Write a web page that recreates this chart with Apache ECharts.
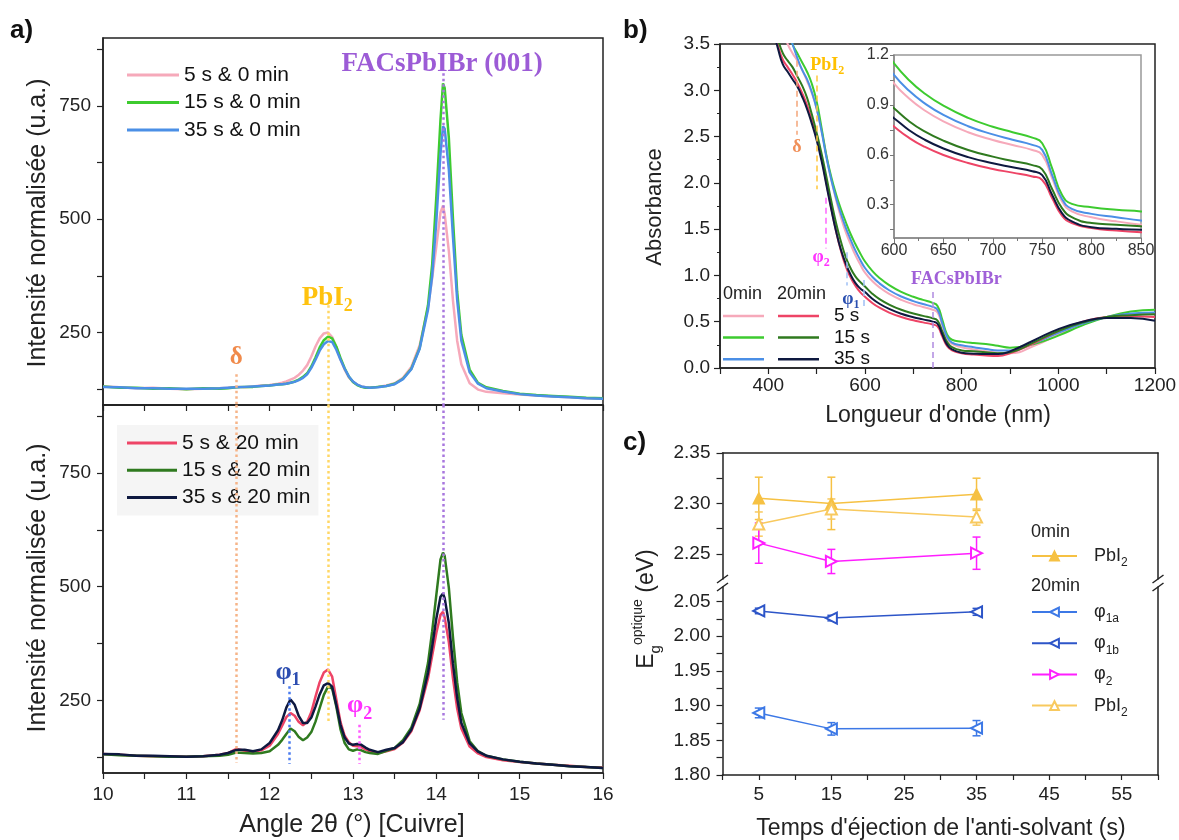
<!DOCTYPE html>
<html><head><meta charset="utf-8">
<script src="https://cdn.jsdelivr.net/npm/echarts@6/dist/echarts.min.js"></script>
<style>html,body{margin:0;padding:0;background:#fff}#c{width:1179px;height:840px}</style>
</head><body><div id="c"></div>
<script>
// ---------------- DATA ----------------
// Panel a : XRD, angle 2theta
const thetaA = [10.0,10.2,10.4,10.6,10.8,11.0,11.2,11.4,11.5,11.6,11.7,11.8,11.9,12.0,12.1,12.15,12.2,12.25,12.3,12.35,12.4,12.45,12.5,12.55,12.6,12.65,12.7,12.75,12.8,12.85,12.9,12.95,13.0,13.05,13.1,13.15,13.2,13.3,13.4,13.5,13.6,13.7,13.8,13.9,13.95,14.0,14.05,14.08,14.1,14.15,14.2,14.25,14.3,14.4,14.5,14.6,14.8,15.0,15.2,15.4,15.6,15.8,16.0];
const xrd_5s_0 = [131,129,127,128,126,125,126,127,128,130,129,131,133,134,137,139,142,146,150,157,166,178,197,219,237,248,250,240,218,191,168,151,141,135,131,129,128,130,133,138,150,174,222,305,370,440,515,530,512,430,320,232,180,138,124,119,116,113,111,109,107,105,104];
const xrd_15s_0 = [131,128,128,126,127,125,127,126,127,129,130,130,132,133,135,136,137,139,142,146,152,160,175,195,217,233,241,237,219,194,171,153,141,134,130,128,128,130,132,137,148,170,216,310,400,550,720,800,790,680,500,340,245,168,139,129,121,115,112,110,108,106,105];
const xrd_35s_0 = [130,129,127,127,126,126,126,127,128,129,130,131,132,133,135,136,137,139,141,145,150,158,172,190,210,224,231,229,212,190,170,153,142,135,131,129,128,129,132,136,147,169,214,300,375,495,645,705,700,610,460,322,232,162,137,127,120,114,111,109,107,105,104];
const xrd_5s_20 = [132,130,128,127,127,126,127,130,134,143,139,137,140,150,176,194,213,222,216,202,195,203,224,258,290,311,318,302,252,202,172,158,150,149,147,142,138,134,138,143,157,182,228,298,348,398,438,445,432,378,298,232,188,148,133,125,118,114,111,108,106,103,102];
const xrd_15s_20 = [131,129,128,127,126,126,127,128,130,135,134,133,134,138,152,163,176,188,182,169,162,168,180,203,233,262,280,276,236,186,156,142,139,142,140,136,134,132,139,145,162,190,242,332,402,482,560,575,568,498,388,290,222,160,138,128,120,115,111,108,105,103,101];
const xrd_35s_20 = [132,131,128,128,127,126,127,130,134,141,141,138,142,156,184,206,234,252,240,215,200,200,212,236,263,283,288,280,240,196,168,155,152,154,152,146,141,136,141,145,158,185,232,310,368,430,478,485,475,420,330,255,200,155,137,128,120,115,111,108,105,103,101];
const peakA = {delta:11.6, pbi2:12.7, fac:14.08, phi1:12.23, phi2:13.07};

// Panel b : absorbance vs wavelength (nm)
const lamB = [410,420,430,440,450,460,470,480,490,500,510,520,530,540,550,560,570,580,590,600,615,630,650,675,700,720,740,750,760,770,780,800,825,850,875,900,950,1000,1050,1100,1150,1200];
const abs_5s_0  = [4.2,3.9,3.65,3.5,3.4,3.32,3.22,3.1,2.97,2.8,2.57,2.3,2.04,1.82,1.63,1.47,1.34,1.22,1.12,1.03,0.94,0.871,0.801,0.736,0.689,0.659,0.629,0.60,0.46,0.32,0.26,0.225,0.20,0.18,0.165,0.16,0.24,0.36,0.47,0.55,0.58,0.58];
const abs_15s_0 = [4.5,4.2,3.9,3.68,3.5,3.4,3.3,3.2,3.07,2.88,2.6,2.3,2.07,1.88,1.72,1.58,1.45,1.34,1.24,1.15,1.05,0.973,0.895,0.822,0.769,0.736,0.703,0.67,0.52,0.36,0.305,0.285,0.27,0.26,0.24,0.22,0.26,0.35,0.46,0.55,0.61,0.63];
const abs_35s_0 = [4.4,4.1,3.85,3.65,3.5,3.35,3.22,3.12,2.98,2.8,2.56,2.28,2.04,1.84,1.67,1.52,1.39,1.27,1.17,1.08,0.986,0.914,0.840,0.772,0.723,0.691,0.660,0.63,0.48,0.335,0.275,0.245,0.225,0.205,0.19,0.19,0.27,0.38,0.48,0.55,0.59,0.60];
const abs_5s_20  = [3.7,3.48,3.33,3.25,3.17,3.08,2.97,2.84,2.68,2.5,2.27,2.0,1.73,1.48,1.27,1.1,0.98,0.89,0.82,0.77,0.703,0.651,0.599,0.551,0.515,0.493,0.470,0.449,0.34,0.235,0.19,0.16,0.145,0.135,0.13,0.16,0.27,0.40,0.50,0.55,0.56,0.55];
const abs_15s_20 = [3.8,3.55,3.4,3.32,3.25,3.15,3.05,2.92,2.74,2.54,2.32,2.07,1.81,1.57,1.37,1.2,1.08,0.99,0.93,0.88,0.803,0.744,0.685,0.629,0.589,0.563,0.538,0.513,0.395,0.28,0.225,0.19,0.18,0.17,0.16,0.17,0.28,0.40,0.49,0.55,0.57,0.58];
const abs_35s_20 = [3.65,3.45,3.28,3.2,3.12,3.04,2.93,2.8,2.64,2.46,2.24,1.98,1.72,1.48,1.28,1.13,1.01,0.92,0.86,0.82,0.749,0.694,0.638,0.586,0.549,0.525,0.501,0.478,0.36,0.25,0.20,0.165,0.155,0.15,0.15,0.18,0.30,0.42,0.50,0.54,0.54,0.51];
const peakB = {delta:458, pbi2:500, phi2:519, phi1a:562, phi1b:598, fac:740};

// Panel c : optical gap vs anti-solvent time
const timeC = [5, 15, 35];
const eg_PbI2_0 = [2.305, 2.300, 2.309];   const eg_PbI2_0_err = [0.021, 0.026, 0.016];
const eg_PbI2_20 = [2.2795, 2.2944, 2.2864]; const eg_PbI2_20_err = [0.012, 0.010, 0.008];
const eg_phi2 = [2.2606, 2.2424, 2.2506];  const eg_phi2_err = [0.020, 0.012, 0.016];
const eg_phi1b = [2.0365, 2.0262, 2.0352]; const eg_phi1b_err = [0.004, 0.004, 0.005];
const eg_phi1a = [1.8895, 1.8665, 1.8675]; const eg_phi1a_err = [0.007, 0.009, 0.011];

// tick labels
const ticksA_x = [10,11,12,13,14,15,16];
const ticksA_y = [250,500,750];
const ticksA_yAll = [125,250,375,500,625,750,875];
const ticksB_x = [400,600,800,1000,1200];
const ticksIn_y = [0.3,0.6,0.9,1.2];
const ticksIn_yAll = [0.15,0.3,0.45,0.6,0.75,0.9,1.05,1.2];
const ticksC_x = [5,15,25,35,45,55];
const ticksC_up = [2.25,2.30,2.35];
const ticksC_upAll = [2.25,2.275,2.30,2.325,2.35];
const ticksC_lo = [1.80,1.85,1.90,1.95,2.00,2.05];
const ticksC_loAll = [1.80,1.825,1.85,1.875,1.90,1.925,1.95,1.975,2.00,2.025,2.05];

// ---------------- STYLE ----------------
const FONT = "'Liberation Sans', Arial, sans-serif";
const SERIF = "'Liberation Serif', 'Times New Roman', serif";
const AX = '#222';
const COL = {pink:'#F6A9BA', green:'#3DCB2F', blue:'#4B8FE6', red:'#EE4466', dkgreen:'#2F7A1F', navy:'#0E1940'};
const zip = (xs, ys) => xs.map((x, i) => [x, ys[i]]);

function axisBase(extra) {
  const a = {
    type: 'value',
    axisLine: {show: true, onZero: false, lineStyle: {color: AX, width: 1.5}},
    axisTick: {show: true, inside: false, length: 6, lineStyle: {color: AX, width: 1.2}},
    splitLine: {show: false},
    axisLabel: {color: '#222', fontFamily: FONT, fontSize: 19, margin: 12}
  };
  for (const k in extra) {
    if (a[k] && typeof a[k] === 'object' && typeof extra[k] === 'object' && !Array.isArray(extra[k])) a[k] = Object.assign({}, a[k], extra[k]);
    else a[k] = extra[k];
  }
  return a;
}

function serifLabel(main, sub, color, size, subSize) {
  return {
    show: true, position: 'inside',
    formatter: sub ? '{m|' + main + '}{s|' + sub + '}' : '{m|' + main + '}',
    rich: {
      m: {fontFamily: SERIF, fontWeight: 'bold', fontSize: size, color: color, lineHeight: Math.round(size * 1.33)},
      s: {fontFamily: SERIF, fontWeight: 'bold', fontSize: subSize, color: color, lineHeight: Math.round(subSize * 0.9), verticalAlign: 'bottom'}
    }
  };
}

function lineA(name, ys, color, xi, extra) {
  return Object.assign({type: 'line', name, xAxisIndex: xi, yAxisIndex: xi, data: zip(thetaA, ys),
    showSymbol: false, symbol: 'none', smooth: false, lineStyle: {color, width: 2.5}, itemStyle: {color}, z: 3}, extra || {});
}
function lineB(name, ys, color, idx, extra) {
  return Object.assign({type: 'line', name, xAxisIndex: idx, yAxisIndex: idx, data: zip(lamB, ys),
    showSymbol: false, symbol: 'none', smooth: 0.5, clip: true,
    lineStyle: {color, width: 2}, itemStyle: {color}, z: 3}, extra || {});
}
function errSeries(ys, es, color, idx) {
  return {type: 'custom', xAxisIndex: idx, yAxisIndex: idx, z: 2, silent: true, itemStyle: {color},
    data: timeC.map((t, i) => [t, ys[i], es[i]]), encode: {x: 0, y: 1},
    renderItem: function (params, api) {
      const x = api.value(0), y = api.value(1), e = api.value(2);
      const p1 = api.coord([x, y + e]), p2 = api.coord([x, y - e]);
      const w = 4, st = {stroke: color, lineWidth: 1.5};
      return {type: 'group', children: [
        {type: 'line', shape: {x1: p1[0], y1: p1[1], x2: p2[0], y2: p2[1]}, style: st},
        {type: 'line', shape: {x1: p1[0] - w, y1: p1[1], x2: p1[0] + w, y2: p1[1]}, style: st},
        {type: 'line', shape: {x1: p2[0] - w, y1: p2[1], x2: p2[0] + w, y2: p2[1]}, style: st}
      ]};
    }};
}
function egLine(name, ys, color, idx, symbol, rot) {
  return {type: 'line', name, xAxisIndex: idx, yAxisIndex: idx, data: zip(timeC, ys), z: 5,
    symbol, symbolRotate: rot, symbolSize: 11, showSymbol: true,
    lineStyle: {color, width: 1.5}, itemStyle: {color, borderColor: color, borderWidth: 1.5}};
}

const dotA = {type: [2.5, 3], width: 2.5};
const series = [
  // panel a top
  lineA('5 s & 0 min', xrd_5s_0, COL.pink, 0, {
    markLine: {silent: true, symbol: ['none', 'none'], label: {show: false}, lineStyle: dotA, animation: false,
      data: [
        [{coord: [peakA.delta, 158], lineStyle: {color: '#F6B488'}}, {coord: [peakA.delta, 90]}],
        [{coord: [peakA.pbi2, 310], lineStyle: {color: '#FFD766'}}, {coord: [peakA.pbi2, 90]}],
        [{coord: [peakA.fac, 822], lineStyle: {color: '#A877DE'}}, {coord: [peakA.fac, 90]}]
      ]},
    markPoint: {silent: true, symbol: 'circle', symbolSize: 0, animation: false,
      data: [
        {coord: [peakA.delta, 195], label: serifLabel('δ', '', '#F08A4B', 25, 16)},
        {coord: [12.69, 327], label: serifLabel('PbI', '2', '#FFC20E', 27, 18)},
        {coord: [14.07, 843], label: serifLabel('FACsPbIBr (001)', '', '#9C5BD6', 27, 18)}
      ]}
  }),
  lineA('15 s & 0 min', xrd_15s_0, COL.green, 0),
  lineA('35 s & 0 min', xrd_35s_0, COL.blue, 0),
  // panel a bottom
  lineA('5 s & 20 min', xrd_5s_20, COL.red, 1, {
    markLine: {silent: true, symbol: ['none', 'none'], label: {show: false}, lineStyle: dotA, animation: false,
      data: [
        [{coord: [peakA.delta, 900], lineStyle: {color: '#F6B488'}}, {coord: [peakA.delta, 112]}],
        [{coord: [peakA.pbi2, 900], lineStyle: {color: '#FFD766'}}, {coord: [peakA.pbi2, 200]}],
        [{coord: [peakA.fac, 900], lineStyle: {color: '#A877DE'}}, {coord: [peakA.fac, 207]}],
        [{coord: [peakA.phi1, 281], lineStyle: {color: '#4A7BF0'}}, {coord: [peakA.phi1, 110]}],
        [{coord: [peakA.phi2, 196], lineStyle: {color: '#FF5CFF'}}, {coord: [peakA.phi2, 110]}]
      ]},
    markPoint: {silent: true, symbol: 'circle', symbolSize: 0, animation: false,
      data: [
        {coord: [12.22, 312], label: serifLabel('φ', '1', '#2C4DB0', 26, 18)},
        {coord: [13.08, 238], label: serifLabel('φ', '2', '#FF30FF', 26, 18)}
      ]}
  }),
  lineA('15 s & 20 min', xrd_15s_20, COL.dkgreen, 1),
  lineA('35 s & 20 min', xrd_35s_20, COL.navy, 1),
  // panel b
  lineB('b5_0', abs_5s_0, COL.pink, 2, {
    markLine: {silent: true, symbol: ['none', 'none'], label: {show: false}, lineStyle: {type: [6, 4], width: 1.5}, animation: false,
      data: [
        [{coord: [peakB.delta, 3.32], lineStyle: {color: '#F4A57A'}}, {coord: [peakB.delta, 2.52]}],
        [{coord: [peakB.pbi2, 3.16], lineStyle: {color: '#FFC83D'}}, {coord: [peakB.pbi2, 1.93]}],
        [{coord: [peakB.phi2, 1.84], lineStyle: {color: '#FF66FF'}}, {coord: [peakB.phi2, 1.29]}],
        [{coord: [peakB.phi1a, 1.25], lineStyle: {color: '#9EC0F5'}}, {coord: [peakB.phi1a, 0.89]}],
        [{coord: [peakB.phi1b, 0.95], lineStyle: {color: '#9EC0F5'}}, {coord: [peakB.phi1b, 0.67]}],
        [{coord: [peakB.fac, 0.82], lineStyle: {color: '#B08AE0'}}, {coord: [peakB.fac, 0.0]}]
      ]},
    markPoint: {silent: true, symbol: 'circle', symbolSize: 0, animation: false,
      data: [
        {coord: [459, 2.38], label: serifLabel('δ', '', '#F0905A', 18, 12)},
        {coord: [522, 3.27], label: serifLabel('PbI', '2', '#FFC000', 18, 12)},
        {coord: [509, 1.2], label: serifLabel('φ', '2', '#FF33FF', 18, 12)},
        {coord: [571, 0.745], label: serifLabel('φ', '1', '#2A4FB0', 18, 12)},
        {coord: [789, 0.956], label: serifLabel('FACsPbIBr', '', '#A060D8', 18, 12)}
      ]}
  }),
  lineB('b15_0', abs_15s_0, COL.green, 2),
  lineB('b35_0', abs_35s_0, COL.blue, 2),
  lineB('b5_20', abs_5s_20, COL.red, 2),
  lineB('b15_20', abs_15s_20, COL.dkgreen, 2),
  lineB('b35_20', abs_35s_20, COL.navy, 2),
  // inset
  lineB('b5_0', abs_5s_0, COL.pink, 3),
  lineB('b15_0', abs_15s_0, COL.green, 3),
  lineB('b35_0', abs_35s_0, COL.blue, 3),
  lineB('b5_20', abs_5s_20, COL.red, 3),
  lineB('b15_20', abs_15s_20, COL.dkgreen, 3),
  lineB('b35_20', abs_35s_20, COL.navy, 3),
  // panel c
  errSeries(eg_PbI2_0, eg_PbI2_0_err, '#F6C143', 4),
  errSeries(eg_PbI2_20, eg_PbI2_20_err, '#F8C95E', 4),
  errSeries(eg_phi2, eg_phi2_err, '#FF1EFF', 4),
  errSeries(eg_phi1b, eg_phi1b_err, '#2D55C8', 5),
  errSeries(eg_phi1a, eg_phi1a_err, '#3C78E6', 5),
  egLine('PbI2_0', eg_PbI2_0, '#F6C143', 4, 'triangle', 0),
  egLine('PbI2_20', eg_PbI2_20, '#F8C95E', 4, 'emptyTriangle', 0),
  egLine('phi2', eg_phi2, '#FF1EFF', 4, 'emptyTriangle', -90),
  egLine('phi1b', eg_phi1b, '#2D55C8', 5, 'emptyTriangle', 90),
  egLine('phi1a', eg_phi1a, '#3C78E6', 5, 'emptyTriangle', 90)
];

const legTxt = {color: '#111', fontFamily: FONT};
const richC = {
  m: {fontFamily: FONT, fontSize: 18, color: '#222', lineHeight: 26},
  s: {fontFamily: FONT, fontSize: 12, color: '#222', lineHeight: 12, verticalAlign: 'bottom'}
};
const legNamesC = {PbI2_0: '{m|PbI}{s|2}', PbI2_20: '{m|PbI}{s|2}', phi2: '{m|φ}{s|2}', phi1a: '{m|φ}{s|1a}', phi1b: '{m|φ}{s|1b}'};
const legNamesB = {b5_20: '5 s', b15_20: '15 s', b35_20: '35 s'};

const option = {
  animation: false,
  backgroundColor: '#fff',
  textStyle: {fontFamily: FONT},
  grid: [
    {left: 103, top: 38, width: 500, height: 367, show: true, borderColor: '#222', borderWidth: 1.5, containLabel: false, outerBoundsMode: 'none'},
    {left: 103, top: 405, width: 500, height: 368, show: true, borderColor: '#222', borderWidth: 1.5, containLabel: false, outerBoundsMode: 'none'},
    {left: 720, top: 44, width: 435, height: 324, show: true, borderColor: '#222', borderWidth: 1.5, containLabel: false, outerBoundsMode: 'none'},
    {left: 894, top: 55, width: 247, height: 183, show: true, borderColor: '#999', borderWidth: 1.5, backgroundColor: '#fff', containLabel: false, outerBoundsMode: 'none'},
    {left: 722.5, top: 453, width: 435.5, height: 126, containLabel: false, outerBoundsMode: 'none'},
    {left: 722.5, top: 587, width: 435.5, height: 188, containLabel: false, outerBoundsMode: 'none'}
  ],
  xAxis: [
    axisBase({gridIndex: 0, min: 10, max: 16, interval: 0.5, axisLabel: {show: false}}),
    axisBase({gridIndex: 1, min: 10, max: 16, interval: 0.5, axisLabel: {customValues: ticksA_x, margin: 12}}),
    axisBase({gridIndex: 2, min: 300, max: 1200, interval: 100, axisLabel: {customValues: ticksB_x, margin: 8, formatter: v => String(v)}}),
    axisBase({gridIndex: 3, min: 600, max: 850, interval: 50,
      axisLine: {lineStyle: {color: '#888', width: 1.5}}, axisTick: {length: 5, lineStyle: {color: '#777', width: 1}},
      minorTick: {show: true, splitNumber: 2, length: 3, lineStyle: {color: '#777', width: 1}},
      axisLabel: {fontSize: 16, margin: 5, color: '#333', formatter: v => String(v)}}),
    axisBase({gridIndex: 4, position: 'top', min: 0, max: 60, axisTick: {show: false}, axisLabel: {show: false}}),
    axisBase({gridIndex: 5, min: 0, max: 60, interval: 5, axisTick: {length: 5}, axisLabel: {customValues: ticksC_x, margin: 10}})
  ],
  yAxis: [
    axisBase({gridIndex: 0, min: 90, max: 900, axisTick: {customValues: ticksA_yAll}, axisLabel: {customValues: ticksA_y, margin: 12}}),
    axisBase({gridIndex: 1, min: 90, max: 900, axisTick: {customValues: ticksA_yAll}, axisLabel: {customValues: ticksA_y, margin: 12}}),
    axisBase({gridIndex: 2, min: 0, max: 3.5, interval: 0.5, minorTick: {show: true, splitNumber: 2, length: 3, lineStyle: {color: AX}},
      axisLabel: {margin: 10, formatter: v => v.toFixed(1)}}),
    axisBase({gridIndex: 3, min: 0.1, max: 1.2,
      axisLine: {lineStyle: {color: '#888', width: 1.5}}, axisTick: {length: 4, customValues: ticksIn_yAll, lineStyle: {color: '#777', width: 1}},
      axisLabel: {customValues: ticksIn_y, fontSize: 16, margin: 5, color: '#333', formatter: v => v.toFixed(1)}}),
    axisBase({gridIndex: 4, min: 2.225, max: 2.35, axisTick: {customValues: ticksC_upAll}, axisLabel: {customValues: ticksC_up, formatter: v => v.toFixed(2)}}),
    axisBase({gridIndex: 5, min: 1.8, max: 2.071, axisTick: {customValues: ticksC_loAll}, axisLabel: {customValues: ticksC_lo, formatter: v => v.toFixed(2)}}),
    axisBase({gridIndex: 4, position: 'right', min: 2.225, max: 2.35, axisTick: {show: false}, axisLabel: {show: false}}),
    axisBase({gridIndex: 5, position: 'right', min: 1.8, max: 2.071, axisTick: {show: false}, axisLabel: {show: false}})
  ],
  legend: [
    {data: ['5 s & 0 min', '15 s & 0 min', '35 s & 0 min'], orient: 'vertical', left: 122, top: 58, icon: 'rect', itemWidth: 52, itemHeight: 3, itemGap: 3.5,
      selectedMode: false, textStyle: Object.assign({fontSize: 21, lineHeight: 24}, legTxt)},
    {data: ['5 s & 20 min', '15 s & 20 min', '35 s & 20 min'], orient: 'vertical', left: 117, top: 425, icon: 'rect', itemWidth: 50, itemHeight: 3, itemGap: 3.2,
      padding: [6, 8, 6, 10], backgroundColor: 'rgba(236,236,236,0.55)',
      selectedMode: false, textStyle: Object.assign({fontSize: 21, lineHeight: 24}, legTxt)},
    {data: ['b5_0', 'b15_0', 'b35_0'], orient: 'vertical', left: 723, top: 306, icon: 'rect', itemWidth: 41, itemHeight: 2.5, itemGap: 1.6, padding: 0,
      selectedMode: false, formatter: () => ' ', textStyle: Object.assign({fontSize: 18, lineHeight: 20}, legTxt)},
    {data: ['b5_20', 'b15_20', 'b35_20'], orient: 'vertical', left: 778, top: 306, icon: 'rect', itemWidth: 41, itemHeight: 2.5, itemGap: 1.6, padding: 0,
      selectedMode: false, formatter: n => legNamesB[n], textStyle: Object.assign({fontSize: 19, lineHeight: 20, padding: [0, 0, 0, 10]}, legTxt)},
    {data: ['PbI2_0'], orient: 'vertical', left: 1031, top: 543, itemWidth: 45, itemHeight: 11, itemGap: 5, padding: 0,
      selectedMode: false, formatter: n => legNamesC[n], textStyle: {rich: richC, lineHeight: 26, padding: [0, 0, 0, 12]}},
    {data: ['phi1a', 'phi1b', 'phi2', 'PbI2_20'], orient: 'vertical', left: 1031, top: 599, itemWidth: 45, itemHeight: 11, itemGap: 5.2, padding: 0,
      selectedMode: false, formatter: n => legNamesC[n], textStyle: {rich: richC, lineHeight: 26, padding: [0, 0, 0, 12]}}
  ],
  graphic: [
    {type: 'text', left: 10, top: 18, style: {text: 'a)', font: 'bold 26px ' + FONT, fill: '#111'}},
    {type: 'text', left: 623, top: 18, style: {text: 'b)', font: 'bold 26px ' + FONT, fill: '#111'}},
    {type: 'text', left: 623, top: 430, style: {text: 'c)', font: 'bold 26px ' + FONT, fill: '#111'}},
    {type: 'text', x: 38, y: 223, rotation: Math.PI / 2, style: {text: 'Intensité normalisée (u.a.)', font: '25px ' + FONT, fill: '#222', align: 'center', verticalAlign: 'middle', textAlign: 'center', textVerticalAlign: 'middle'}},
    {type: 'text', x: 38, y: 588, rotation: Math.PI / 2, style: {text: 'Intensité normalisée (u.a.)', font: '25px ' + FONT, fill: '#222', align: 'center', verticalAlign: 'middle', textAlign: 'center', textVerticalAlign: 'middle'}},
    {type: 'text', x: 352, y: 825, style: {text: 'Angle 2θ (°) [Cuivre]', font: '25px ' + FONT, fill: '#222', align: 'center', verticalAlign: 'middle', textAlign: 'center', textVerticalAlign: 'middle'}},
    {type: 'text', x: 655, y: 207, rotation: Math.PI / 2, style: {text: 'Absorbance', font: '22px ' + FONT, fill: '#222', align: 'center', verticalAlign: 'middle', textAlign: 'center', textVerticalAlign: 'middle'}},
    {type: 'text', x: 938, y: 416, style: {text: "Longueur d'onde (nm)", font: '23px ' + FONT, fill: '#222', align: 'center', verticalAlign: 'middle', textAlign: 'center', textVerticalAlign: 'middle'}},
    {type: 'text', x: 941, y: 829, style: {text: "Temps d'éjection de l'anti-solvant (s)", font: '23px ' + FONT, fill: '#222', align: 'center', verticalAlign: 'middle', textAlign: 'center', textVerticalAlign: 'middle'}},
    {type: 'text', x: 647, y: 609, rotation: Math.PI / 2, style: {
      text: '{E|E}{g|g}{o|optique}{r| (eV)}', align: 'center', verticalAlign: 'middle', textAlign: 'center', textVerticalAlign: 'middle',
      rich: {
        E: {fontFamily: FONT, fontSize: 23, fill: '#222', color: '#222', lineHeight: 32},
        g: {fontFamily: FONT, fontSize: 15, fill: '#222', color: '#222', lineHeight: 14, verticalAlign: 'bottom'},
        o: {fontFamily: FONT, fontSize: 14, fill: '#222', color: '#222', lineHeight: 14, verticalAlign: 'top'},
        r: {fontFamily: FONT, fontSize: 23, fill: '#222', color: '#222', lineHeight: 32}
      }}},
    {type: 'text', left: 723, top: 285, style: {text: '0min', font: '18px ' + FONT, fill: '#222'}},
    {type: 'text', left: 777, top: 285, style: {text: '20min', font: '18px ' + FONT, fill: '#222'}},
    {type: 'text', left: 1031, top: 523, style: {text: '0min', font: '18px ' + FONT, fill: '#222'}},
    {type: 'text', left: 1031, top: 577, style: {text: '20min', font: '18px ' + FONT, fill: '#222'}},
    // axis break marks
    {type: 'line', shape: {x1: 717, y1: 583, x2: 728, y2: 575}, style: {stroke: '#222', lineWidth: 1.5}},
    {type: 'line', shape: {x1: 717, y1: 591, x2: 728, y2: 583}, style: {stroke: '#222', lineWidth: 1.5}},
    {type: 'line', shape: {x1: 1152.5, y1: 583, x2: 1163.5, y2: 575}, style: {stroke: '#222', lineWidth: 1.5}},
    {type: 'line', shape: {x1: 1152.5, y1: 591, x2: 1163.5, y2: 583}, style: {stroke: '#222', lineWidth: 1.5}}
  ],
  series: series
};

const chart = echarts.init(document.getElementById('c'), null, {renderer: 'canvas', width: 1179, height: 840});
chart.setOption(option);
</script></body></html>
